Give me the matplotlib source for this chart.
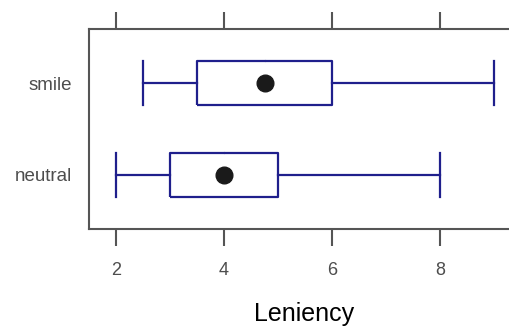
import matplotlib
matplotlib.use('Agg')
from matplotlib import pyplot as plt

# five-number summaries (lower whisker, Q1, median, Q3, upper whisker)
groups = ['neutral', 'smile']
lower = [2.0, 2.5]
q1 = [3.0, 3.5]
median = [4.0, 4.75]
q3 = [5.0, 6.0]
upper = [8.0, 9.0]

blue = '#1f1f8c'
grey = '#555555'
plt.rcParams['font.family'] = ['Liberation Sans', 'DejaVu Sans']

fig = plt.figure(figsize=(5.1, 3.29), dpi=100)
ax = fig.add_axes([89 / 510, 100 / 329, 430 / 510, 200 / 329])

half = 0.24
for i, g in enumerate(groups):
    y = i + 1
    # box
    ax.plot([q1[i], q3[i], q3[i], q1[i], q1[i]],
            [y - half, y - half, y + half, y + half, y - half],
            color=blue, lw=1.6, solid_capstyle='butt')
    # whiskers
    ax.plot([lower[i], q1[i]], [y, y], color=blue, lw=1.6)
    ax.plot([q3[i], upper[i]], [y, y], color=blue, lw=1.6)
    # whisker caps
    ax.plot([lower[i], lower[i]], [y - half, y + half], color=blue, lw=1.6)
    ax.plot([upper[i], upper[i]], [y - half, y + half], color=blue, lw=1.6)
    # tiny median mark on the top edge
    ax.plot([median[i], median[i]], [y + half, y + half + 0.015], color=blue, lw=0.8)
    # median dot
    ax.plot(median[i], y, 'o', color='#1a1a1a', ms=12)

ax.set_xlim(1.5, 9.46)
ax.set_ylim(0.413, 2.587)
ax.set_yticks([1, 2])
ax.set_yticklabels(groups)
ax.set_xticks([2, 4, 6, 8])

for s in ax.spines.values():
    s.set_color(grey)
    s.set_linewidth(1.5)
ax.spines['right'].set_visible(False)

ax.tick_params(axis='x', which='both', top=True, bottom=True, direction='out',
               length=12, width=1.5, color=grey, labelcolor='#4d4d4d',
               labelsize=13, pad=12)
ax.tick_params(axis='y', length=0, labelcolor='#4d4d4d', labelsize=13.5, pad=12)

ax.set_xlabel('Leniency', fontsize=18, labelpad=16, color='black')

plt.savefig('out.png', dpi=100)
